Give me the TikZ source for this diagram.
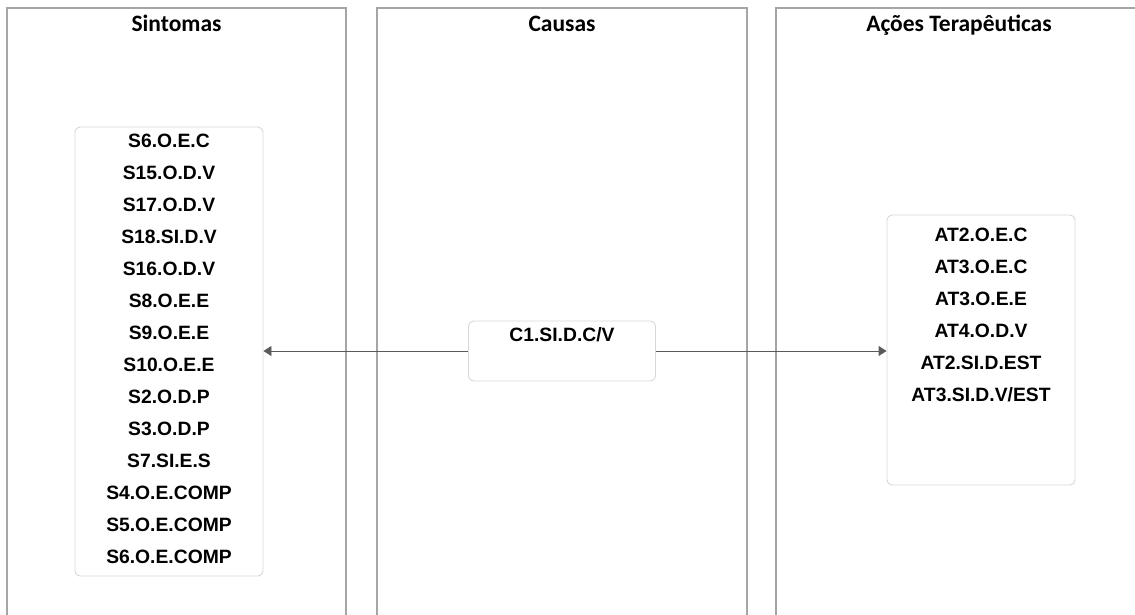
\documentclass[tikz,border=0pt]{standalone}
\usepackage{fontspec}
\setmainfont{Liberation Sans}
\newfontfamily\headfont{Carlito}
\usetikzlibrary{arrows.meta,positioning,calc}
\definecolor{PanelGray}{RGB}{165,165,165}
\definecolor{BoxGray}{RGB}{215,215,215}
\definecolor{LinkGray}{RGB}{90,90,90}

\begin{document}
\begin{tikzpicture}[x=1pt,y=-1pt,
  panel/.style={draw=PanelGray,line width=1.1pt},
  colhead/.style={font=\headfont\bfseries\fontsize{23.5}{28}\selectfont,anchor=base},
  itembox/.style={draw=BoxGray,rounded corners=5pt,line width=0.9pt,inner sep=0pt},
  items/.style={font=\bfseries\fontsize{19.3}{32}\selectfont,align=center,inner sep=0pt},
  link/.style={draw=LinkGray,line width=0.9pt,-{Triangle[length=8pt,width=10pt]}}]
  \useasboundingbox (0,0) rectangle (1135,615);

  % colunas
  \draw[panel] (7,616) |- (346,8) -- (346,616);
  \draw[panel] (377,616) |- (747,8) -- (747,616);
  \draw[panel] (776,616) |- (1142,8) -- (1142,616);
  \node[colhead] (hsint) at (176.5,32) {Sintomas};
  \node[colhead] (hcaus) at (562,32) {Causas};
  \node[colhead] (hacoes) at (959,32) {Ações Terapêuticas};

  % caixas
  \node[itembox,minimum width=188pt,minimum height=449pt] (sint) at (169,351.5) {};
  \node[itembox,minimum width=187pt,minimum height=60pt] (caus) at (562,351) {};
  \node[itembox,minimum width=188pt,minimum height=270pt] (acoes) at (981,350) {};

  \node[items] (sinttxt) at (169,349) {S6.O.E.C\\S15.O.D.V\\S17.O.D.V\\S18.SI.D.V\\S16.O.D.V\\S8.O.E.E\\S9.O.E.E\\S10.O.E.E\\S2.O.D.P\\S3.O.D.P\\S7.SI.E.S\\S4.O.E.COMP\\S5.O.E.COMP\\S6.O.E.COMP};
  \node[items,below=7pt of caus.north] (caustxt) {C1.SI.D.C/V};
  \node[items,below=13pt of acoes.north] (acoestxt) {AT2.O.E.C\\AT3.O.E.C\\AT3.O.E.E\\AT4.O.D.V\\AT2.SI.D.EST\\AT3.SI.D.V/EST};

  % ligacoes
  \draw[link] (caus.west) -- (caus.west -| sint.east);
  \draw[link] (caus.east) -- (caus.east -| acoes.west);
\end{tikzpicture}
\end{document}
